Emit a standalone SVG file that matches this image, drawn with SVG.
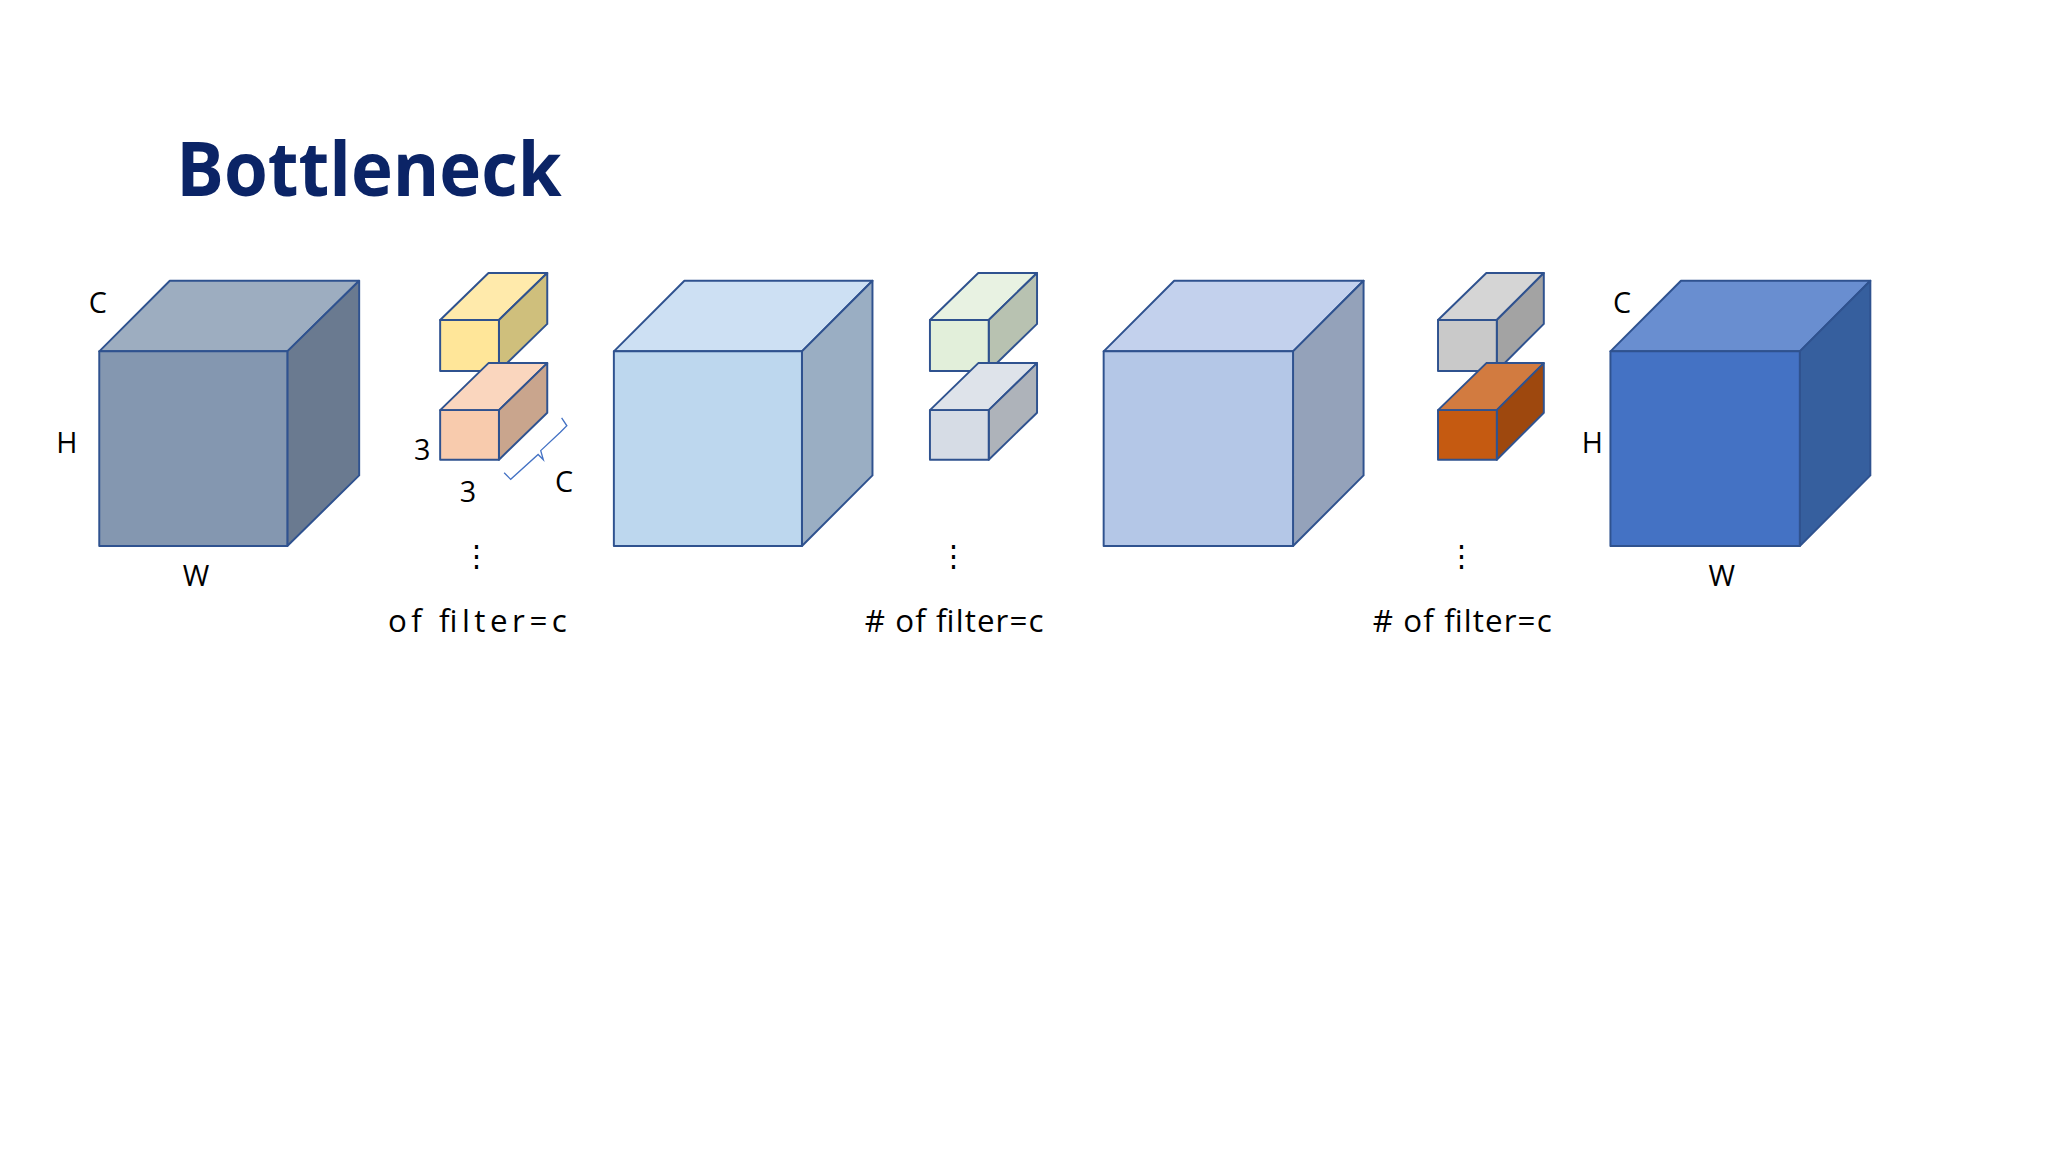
<svg xmlns="http://www.w3.org/2000/svg" width="2048" height="1152" viewBox="0 0 2048 1152">
<style>
.s{stroke:#2f528f;stroke-width:1.5;stroke-linejoin:round}
.t{font-family:"Open Sans","Liberation Sans",sans-serif;font-size:22px;fill:#000}
.f{font-family:"Open Sans","Liberation Sans",sans-serif;font-size:24px;fill:#000}
</style>
<rect width="2048" height="1152" fill="#ffffff"/>
<g transform="scale(1.3061)">
<text x="135" y="150" textLength="295" lengthAdjust="spacingAndGlyphs" style="font-family:'Open Sans','Liberation Sans',sans-serif;font-weight:bold;font-size:57px;fill:#0b2466">Bottleneck</text>

<g id="cube1">
<polygon class="s" fill="#9dadc0" points="76,269 130,215 275,215 220,269"/>
<polygon class="s" fill="#6a7a90" points="220,269 275,215 275,364 220,418"/>
<rect class="s" fill="#8497b0" x="76" y="269" width="144" height="149"/>
<text class="t" x="68" y="240">C</text><text class="t" x="43" y="347">H</text><text class="t" x="140" y="449">W</text>
</g>

<g id="filters1">
<polygon class="s" fill="#ffeaab" points="337,245 374,209 419,209 382,245"/>
<polygon class="s" fill="#cfbf7c" points="382,245 419,209 419,248 382,284"/>
<rect class="s" fill="#ffe699" x="337" y="245" width="45" height="39"/>
<polygon class="s" fill="#fad6be" points="337,314 374,278 419,278 382,314"/>
<polygon class="s" fill="#c9a58d" points="382,314 419,278 419,316 382,352"/>
<rect class="s" fill="#f8cbad" x="337" y="314" width="45" height="38"/>
<path d="M386,362 L391,367 L412,348 L416,352 L414,345 L429,331 L434,326 L430,320" fill="none" stroke="#4472c4" stroke-width="1"/>
<text class="t" x="317" y="352">3</text><text class="t" x="352" y="384">3</text><text class="t" x="425" y="377">C</text>
<text class="t" x="354" y="433">⋮</text>
<text class="f" x="297" y="484" textLength="137">of filter=c</text>
</g>

<g id="cube2">
<polygon class="s" fill="#cde0f3" points="470,269 524,215 668,215 614,269"/>
<polygon class="s" fill="#9aaec3" points="614,269 668,215 668,364 614,418"/>
<rect class="s" fill="#bdd7ee" x="470" y="269" width="144" height="149"/>
</g>

<g id="filters2">
<polygon class="s" fill="#e8f2e2" points="712,245 749,209 794,209 757,245"/>
<polygon class="s" fill="#b8c2b1" points="757,245 794,209 794,248 757,284"/>
<rect class="s" fill="#e2efda" x="712" y="245" width="45" height="39"/>
<polygon class="s" fill="#dee3ea" points="712,314 749,278 794,278 757,314"/>
<polygon class="s" fill="#aeb3ba" points="757,314 794,278 794,316 757,352"/>
<rect class="s" fill="#d6dce5" x="712" y="314" width="45" height="38"/>
<text class="t" x="719" y="433">⋮</text>
<text class="f" x="662" y="484" textLength="137"># of filter=c</text>
</g>

<g id="cube3">
<polygon class="s" fill="#c3d1ed" points="845,269 899,215 1044,215 990,269"/>
<polygon class="s" fill="#94a2ba" points="990,269 1044,215 1044,364 990,418"/>
<rect class="s" fill="#b4c7e7" x="845" y="269" width="145" height="149"/>
</g>

<g id="filters3">
<polygon class="s" fill="#d5d5d5" points="1101,245 1138,209 1182,209 1146,245"/>
<polygon class="s" fill="#a3a3a3" points="1146,245 1182,209 1182,248 1146,284"/>
<rect class="s" fill="#c9c9c9" x="1101" y="245" width="45" height="39"/>
<polygon class="s" fill="#d27b40" points="1101,314 1138,278 1182,278 1146,314"/>
<polygon class="s" fill="#9e480e" points="1146,314 1182,278 1182,316 1146,352"/>
<rect class="s" fill="#c55a11" x="1101" y="314" width="45" height="38"/>
<text class="t" x="1108" y="433">⋮</text>
<text class="f" x="1051" y="484" textLength="137"># of filter=c</text>
</g>

<g id="cube4">
<polygon class="s" fill="#698ed0" points="1233,269 1287,215 1432,215 1378,269"/>
<polygon class="s" fill="#365f9e" points="1378,269 1432,215 1432,364 1378,418"/>
<rect class="s" fill="#4472c4" x="1233" y="269" width="145" height="149"/>
<text class="t" x="1235" y="240">C</text><text class="t" x="1211" y="347">H</text><text class="t" x="1308" y="449">W</text>
</g>
</g>
</svg>
